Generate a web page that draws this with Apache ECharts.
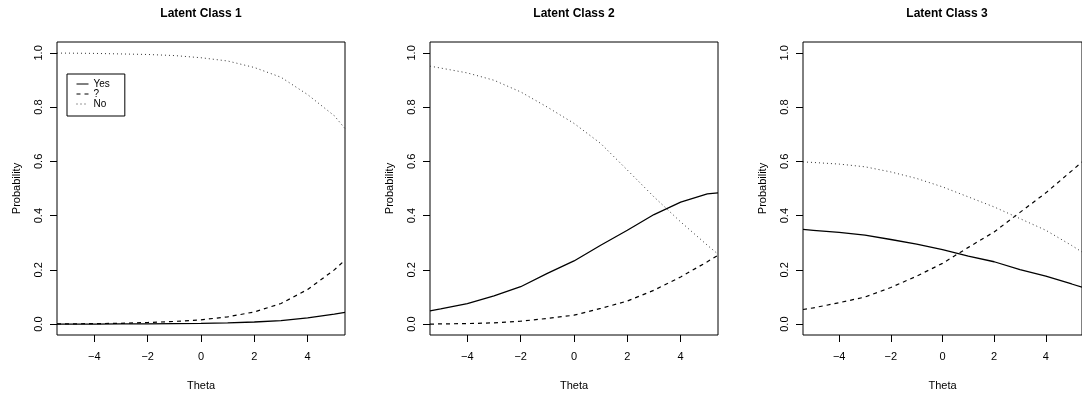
<!DOCTYPE html>
<html>
<head>
<meta charset="utf-8">
<script src="https://cdn.jsdelivr.net/npm/echarts@6/dist/echarts.min.js"></script>
<style>html,body{margin:0;padding:0;background:#fff}#c{width:1082px;height:396px}</style>
</head>
<body>
<div id="c"></div>
<script>
// Theta grid
const theta = [-5.4, -5, -4, -3, -2, -1, 0, 1, 2, 3, 4, 5, 5.4];
const categoriesLegend = ['Yes', '?', 'No'];
const panelTitles = ['Latent Class 1', 'Latent Class 2', 'Latent Class 3'];
const xTicks = [-4, -2, 0, 2, 4];
const yTicks = [0, 0.2, 0.4, 0.6, 0.8, 1.0];

// Latent Class 1
const c1Yes = [0.000, 0.000, 0.000, 0.001, 0.001, 0.002, 0.003, 0.005, 0.008, 0.013, 0.023, 0.037, 0.043];
const c1Q   = [0.001, 0.001, 0.002, 0.003, 0.006, 0.010, 0.016, 0.027, 0.045, 0.076, 0.128, 0.200, 0.236];
const c1No  = [0.999, 0.999, 0.998, 0.996, 0.994, 0.990, 0.982, 0.970, 0.946, 0.910, 0.846, 0.768, 0.721];
// Latent Class 2
const c2Yes = [0.049, 0.056, 0.076, 0.104, 0.138, 0.187, 0.233, 0.291, 0.346, 0.404, 0.450, 0.480, 0.484];
const c2Q   = [0.000, 0.001, 0.002, 0.005, 0.011, 0.021, 0.033, 0.058, 0.085, 0.125, 0.174, 0.230, 0.254];
const c2No  = [0.951, 0.944, 0.926, 0.899, 0.856, 0.800, 0.740, 0.666, 0.568, 0.469, 0.377, 0.291, 0.258];
// Latent Class 3
const c3Yes = [0.349, 0.346, 0.338, 0.328, 0.312, 0.295, 0.275, 0.251, 0.230, 0.201, 0.177, 0.148, 0.136];
const c3Q   = [0.054, 0.060, 0.079, 0.100, 0.135, 0.177, 0.224, 0.283, 0.340, 0.412, 0.484, 0.565, 0.598];
const c3No  = [0.598, 0.596, 0.590, 0.580, 0.561, 0.537, 0.506, 0.469, 0.432, 0.389, 0.346, 0.290, 0.266];

const panels = [[c1Yes, c1Q, c1No], [c2Yes, c2Q, c2No], [c3Yes, c3Q, c3No]];

const FONT = 'Liberation Sans, Arial, Helvetica, sans-serif';
const gridLefts = [57, 430, 803];
const gridW = 288, gridTop = 42, gridH = 293;

const lineStyles = [
  {color: '#000', width: 1.3, type: 'solid'},
  {color: '#000', width: 1.2, type: [4, 4]},
  {color: '#333', width: 1, type: [1, 3]}
];

const fmtNum = v => (v < 0 ? '\u2212' + Math.abs(v) : String(v));

const option = {
  animation: false,
  backgroundColor: '#fff',
  title: panelTitles.map((t, i) => ({
    text: t, left: gridLefts[i] + gridW / 2, top: 8, textAlign: 'center', padding: 0,
    textStyle: {fontFamily: FONT, fontSize: 12, fontWeight: 'bold', color: '#000'}
  })),
  legend: {
    show: true, orient: 'vertical', left: 67, top: 74,
    data: categoriesLegend,
    borderColor: '#000', borderWidth: 1, borderRadius: 0,
    padding: [5, 15, 7, 9], itemGap: 0, itemWidth: 12, itemHeight: 8,
    itemStyle: {color: 'transparent', borderColor: 'transparent', borderWidth: 0, opacity: 0},
    lineStyle: {width: 1},
    textStyle: {fontFamily: FONT, fontSize: 10, color: '#000', lineHeight: 10},
    selectedMode: false
  },
  grid: gridLefts.map(l => ({
    left: l, top: gridTop, width: gridW, height: gridH, show: true,
    borderColor: '#000', borderWidth: 1, backgroundColor: 'transparent', containLabel: false
  })),
  xAxis: gridLefts.map((l, i) => ({
    type: 'value', gridIndex: i, min: -5.4, max: 5.4, position: 'bottom',
    name: 'Theta', nameLocation: 'middle', nameGap: 45,
    nameTextStyle: {fontFamily: FONT, fontSize: 11, color: '#000'},
    axisLine: {show: false, onZero: false},
    axisTick: {show: true, inside: false, length: 7, lineStyle: {color: '#000', width: 1}, customValues: xTicks},
    axisLabel: {show: true, margin: 16, fontFamily: FONT, fontSize: 11, color: '#000', customValues: xTicks, formatter: fmtNum},
    splitLine: {show: false}
  })),
  yAxis: gridLefts.map((l, i) => ({
    type: 'value', gridIndex: i, min: -0.04, max: 1.04, position: 'left',
    name: 'Probability', nameLocation: 'middle', nameGap: 35,
    nameTextStyle: {fontFamily: FONT, fontSize: 11, color: '#000'},
    axisLine: {show: false, onZero: false},
    axisTick: {show: true, inside: false, length: 7, lineStyle: {color: '#000', width: 1}, customValues: yTicks},
    axisLabel: {show: true, margin: 13, rotate: 90, fontFamily: FONT, fontSize: 11, color: '#000', customValues: yTicks, formatter: v => v.toFixed(1)},
    splitLine: {show: false}
  })),
  series: []
};

panels.forEach((arrs, pi) => {
  arrs.forEach((vals, si) => {
    option.series.push({
      type: 'line', name: categoriesLegend[si], xAxisIndex: pi, yAxisIndex: pi,
      data: theta.map((t, k) => [t, vals[k]]),
      symbol: 'none', showSymbol: false, smooth: false,
      lineStyle: lineStyles[si], itemStyle: {color: '#000'},
      clip: true
    });
  });
});

const chart = echarts.init(document.getElementById('c'), null, {renderer: 'canvas'});
chart.setOption(option);
</script>
</body>
</html>
